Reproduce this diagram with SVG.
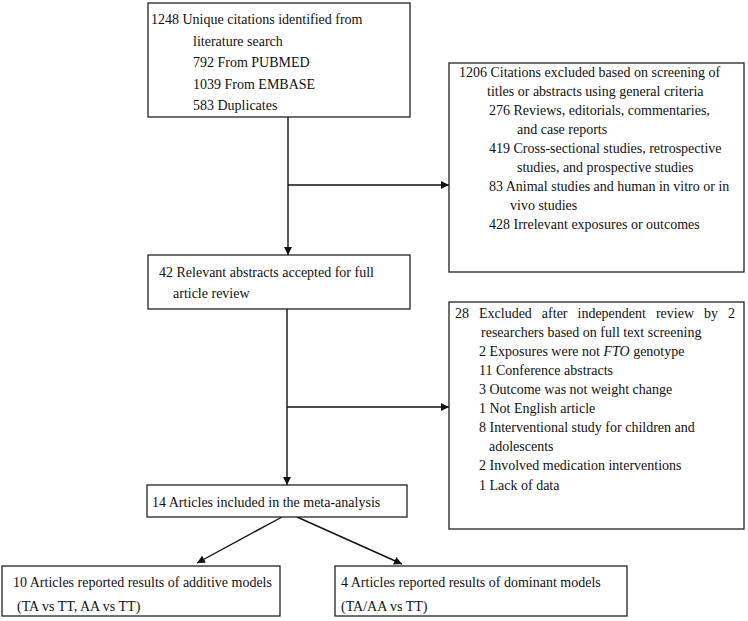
<svg xmlns="http://www.w3.org/2000/svg" width="748" height="621" viewBox="0 0 748 621">
<style>
.box{fill:#fff;stroke:#222;stroke-width:1.3}
.t{font-family:"Liberation Serif","Times New Roman",serif;font-size:14px;fill:#111}
.c{stroke:#111;stroke-width:1.4;fill:none}
</style>
<defs>
<marker id="ah" viewBox="0 0 10 10" refX="10" refY="5" markerWidth="8" markerHeight="8" markerUnits="userSpaceOnUse" orient="auto">
<path d="M0,0 L10,5 L0,10 z" fill="#111"/>
</marker>
</defs>
<rect width="748" height="621" fill="#fff"/>
<g id="connectors">
<line class="c" x1="288" y1="117" x2="288" y2="255" marker-end="url(#ah)"/>
<line class="c" x1="288" y1="185" x2="449" y2="185" marker-end="url(#ah)"/>
<line class="c" x1="287" y1="309" x2="287" y2="485" marker-end="url(#ah)"/>
<line class="c" x1="287" y1="407" x2="449" y2="407" marker-end="url(#ah)"/>
<line class="c" x1="282" y1="517" x2="197" y2="563" marker-end="url(#ah)"/>
<line class="c" x1="297" y1="517" x2="402" y2="564" marker-end="url(#ah)"/>
</g>
<g id="n1">
<rect class="box" x="148" y="3" width="262" height="114"/>
<text class="t" x="151" y="24">1248 Unique citations identified from</text>
<text class="t" x="193" y="45.5">literature search</text>
<text class="t" x="193" y="67">792 From PUBMED</text>
<text class="t" x="193" y="88.5">1039 From EMBASE</text>
<text class="t" x="193" y="110">583 Duplicates</text>
</g>
<g id="n2">
<rect class="box" x="449" y="63" width="295" height="209"/>
<text class="t" x="459" y="77">1206 Citations excluded based on screening of</text>
<text class="t" x="487" y="96">titles or abstracts using general criteria</text>
<text class="t" x="489" y="115">276 Reviews, editorials, commentaries,</text>
<text class="t" x="517" y="134">and case reports</text>
<text class="t" x="489" y="153">419 Cross-sectional studies, retrospective</text>
<text class="t" x="517" y="172">studies, and prospective studies</text>
<text class="t" x="489" y="191">83 Animal studies and human in vitro or in</text>
<text class="t" x="510" y="210">vivo studies</text>
<text class="t" x="489" y="229">428 Irrelevant exposures or outcomes</text>
</g>
<g id="n3">
<rect class="box" x="148" y="255" width="262" height="54"/>
<text class="t" x="159" y="277">42 Relevant abstracts accepted for full</text>
<text class="t" x="173" y="298">article review</text>
</g>
<g id="n4">
<rect class="box" x="449" y="302" width="295" height="227"/>
<text class="t" x="455" y="318" word-spacing="6.5">28 Excluded after independent review by 2</text>
<text class="t" x="481" y="337">researchers based on full text screening</text>
<text class="t" x="479" y="356">2 Exposures were not <tspan font-style="italic">FTO</tspan> genotype</text>
<text class="t" x="479" y="375">11 Conference abstracts</text>
<text class="t" x="479" y="394">3 Outcome was not weight change</text>
<text class="t" x="479" y="413">1 Not English article</text>
<text class="t" x="479" y="432">8 Interventional study for children and</text>
<text class="t" x="489" y="451">adolescents</text>
<text class="t" x="479" y="470">2 Involved medication interventions</text>
<text class="t" x="479" y="490">1 Lack of data</text>
</g>
<g id="n5">
<rect class="box" x="147" y="485" width="260" height="32"/>
<text class="t" x="152" y="507">14 Articles included in the meta-analysis</text>
</g>
<g id="n6">
<rect class="box" x="2" y="566" width="278" height="50"/>
<text class="t" x="13" y="587">10 Articles reported results of additive models</text>
<text class="t" x="17" y="611">(TA vs TT, AA vs TT)</text>
</g>
<g id="n7">
<rect class="box" x="335" y="566" width="292" height="50"/>
<text class="t" x="341" y="587">4 Articles reported results of dominant models</text>
<text class="t" x="341" y="611">(TA/AA vs TT)</text>
</g>
</svg>
